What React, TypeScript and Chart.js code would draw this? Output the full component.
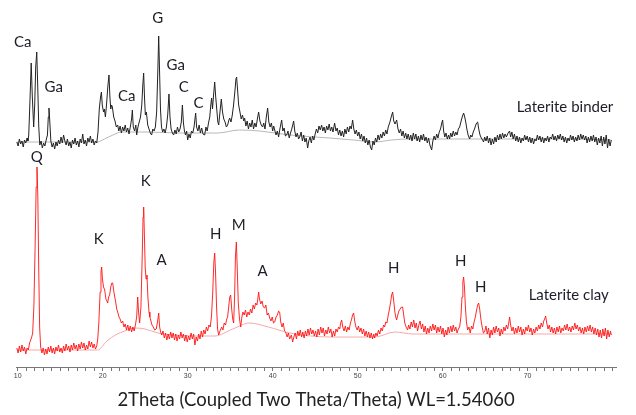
import React, { useEffect, useRef } from "react";
import { Chart, registerables } from "chart.js";

Chart.register(...registerables);

// 2θ (degrees) vs. intensity (arbitrary units, offset traces)
const binderLow: [number, number][] = [
  [9.9,225],[10.05,221],[10.2,228],[10.35,223],[10.5,226],[10.65,220],[10.8,227],[10.95,224],[11.1,229],[11.2,226],[11.3,232],[11.45,268],[11.59,304],[11.72,270],[11.88,240],[12.0,262],[12.12,300],[12.24,315],[12.36,280],[12.48,240],[12.6,222],[12.75,226],[12.9,219],[13.05,224],[13.2,221],[13.35,227],[13.5,232],[13.6,250],[13.68,259],[13.78,245],[13.9,226],[14.05,220],[14.2,224],[14.35,218],[14.5,225],[14.65,221],[14.8,227],[14.95,223],[15.1,230],[15.25,224],[15.4,232],[15.55,226],[15.7,222],[15.85,228],[16.0,221],[16.15,225],[16.3,219],[16.45,227],[16.6,223],[16.75,229],[16.9,222],[17.05,226],[17.2,220],[17.35,228],[17.5,224],[17.65,233],[17.8,223],[17.95,227],[18.1,221],[18.25,229],[18.4,225],[18.55,231],[18.7,224],[18.85,228],[19.0,222],[19.15,226],[19.3,224]
];
const binderMid: [number, number][] = [
  [19.45,235],[19.6,258],[19.75,270],[19.85,275],[19.95,262],[20.1,255],[20.2,258],[20.32,250],[20.45,262],[20.6,280],[20.74,292],[20.85,270],[20.95,258],[21.05,262],[21.14,260],[21.3,250],[21.45,246],[21.6,240],[21.76,242],[21.9,236],[22.05,241],[22.2,234],[22.35,240],[22.5,236],[22.65,242],[22.8,235],[22.95,239],[23.1,233],[23.25,240],[23.4,248],[23.49,257],[23.6,240],[23.75,236],[23.9,242],[24.0,232],[24.15,240],[24.3,245],[24.45,250],[24.6,262],[24.72,282],[24.82,294],[24.92,270],[25.02,252],[25.14,255],[25.3,242],[25.45,238],[25.6,234],[25.76,232],[25.9,238],[26.05,236],[26.2,240],[26.35,255],[26.5,300],[26.59,331],[26.68,300],[26.8,258],[26.92,240],[27.06,235],[27.2,238],[27.35,234],[27.5,240],[27.65,252],[27.8,273],[27.92,250],[28.05,238],[28.2,234],[28.35,232],[28.5,237],[28.65,233],[28.8,240],[28.95,235],[29.1,238],[29.25,245],[29.38,262],[29.5,244],[29.62,236],[29.75,232],[29.88,236],[30.0,227],[30.15,233],[30.3,229],[30.45,236],[30.6,234],[30.75,240],[30.94,254],[31.05,240],[31.2,236],[31.35,242],[31.5,234],[31.65,239],[31.8,233],[32.0,232],[32.15,240],[32.3,236],[32.45,244],[32.6,250],[32.72,262],[32.82,269],[32.92,258],[33.05,272],[33.18,285],[33.3,270],[33.45,255],[33.55,245],[33.65,242],[33.8,255],[33.96,268],[34.1,255],[34.25,248],[34.4,245],[34.55,240],[34.7,242],[34.82,246],[34.94,249],[35.1,245],[35.25,252],[35.4,262],[35.55,275],[35.68,288],[35.76,290],[35.88,276],[36.0,262],[36.15,255],[36.3,248],[36.45,252],[36.6,246],[36.7,249],[36.85,241],[37.0,246],[37.15,238],[37.3,244],[37.45,240],[37.6,247],[37.75,238],[37.9,244],[38.05,240],[38.2,248],[38.35,255],[38.5,246],[38.65,242],[38.82,240],[38.95,244],[39.1,238],[39.25,250],[39.41,259],[39.55,245],[39.7,240],[39.85,244],[40.0,236],[40.12,241],[40.24,237],[40.4,232],[40.55,236],[40.7,230],[40.85,238],[41.06,247],[41.2,236],[41.35,239],[41.5,231],[41.65,232],[41.8,236],[41.95,229],[42.1,234],[42.25,238],[42.47,246],[42.6,236],[42.75,230],[42.9,234],[43.05,228],[43.18,230],[43.35,235],[43.5,226],[43.65,232],[43.8,225],[43.95,229],[44.12,219],[44.25,226],[44.4,230],[44.55,224],[44.7,231],[44.85,227]
];
const binderHigh: [number, number][] = [
  [45.0,233],[45.15,238],[45.3,234],[45.45,241],[45.6,237],[45.76,242],[45.9,236],[46.05,240],[46.2,234],[46.35,241],[46.5,237],[46.65,243],[46.8,236],[46.95,240],[47.1,235],[47.29,244],[47.45,236],[47.6,239],[47.75,232],[47.9,237],[48.05,231],[48.2,236],[48.35,230],[48.5,238],[48.65,233],[48.8,240],[48.95,235],[49.1,241],[49.25,238],[49.41,247],[49.55,238],[49.7,233],[49.85,237],[50.0,231],[50.15,235],[50.3,228],[50.45,233],[50.6,226],[50.75,231],[50.9,224],[51.05,229],[51.2,222],[51.35,227],[51.5,220],[51.65,217],[51.8,226],[51.95,222],[52.1,229],[52.25,225],[52.4,232],[52.55,227],[52.7,233],[52.85,229],[53.0,235],[53.15,231],[53.3,237],[53.45,233],[53.6,240],[53.8,245],[53.95,250],[54.12,255],[54.25,246],[54.4,243],[54.59,247],[54.75,238],[54.9,234],[55.05,238],[55.2,231],[55.35,236],[55.5,229],[55.65,234],[55.8,228],[55.95,233],[56.1,227],[56.25,232],[56.4,226],[56.55,234],[56.7,228],[56.85,233],[57.0,226],[57.15,231],[57.3,225],[57.45,232],[57.6,227],[57.75,233],[57.9,226],[58.05,230],[58.2,224],[58.35,229],[58.5,222],[58.71,217],[58.85,226],[59.0,231],[59.15,227],[59.3,233],[59.45,229],[59.6,235],[59.75,238],[59.9,244],[60.0,247],[60.12,236],[60.25,230],[60.4,234],[60.55,228],[60.7,232],[60.82,228],[60.95,234],[61.1,230],[61.25,236],[61.4,231],[61.55,235],[61.7,232],[61.85,238],[62.0,240],[62.15,245],[62.3,250],[62.47,254],[62.6,250],[62.72,245],[62.85,238],[63.0,232],[63.18,228],[63.3,232],[63.45,230],[63.6,235],[63.75,238],[63.9,242],[64.0,244],[64.12,245],[64.25,238],[64.4,232],[64.55,229],[64.7,227],[64.82,225],[64.95,230],[65.1,226],[65.25,231],[65.4,224],[65.55,229],[65.7,222],[65.85,228],[66.0,223],[66.15,230],[66.3,225],[66.45,232],[66.6,227],[66.75,233],[66.9,228],[67.05,234],[67.2,229],[67.35,233],[67.5,230],[67.7,234],[67.88,236],[68.0,230],[68.15,235],[68.3,228],[68.45,233],[68.6,226],[68.75,231],[68.9,225],[69.05,230],[69.2,224],[69.35,229],[69.5,226],[69.65,232],[69.8,227],[69.95,231],[70.1,225],[70.25,230],[70.4,224],[70.55,229],[70.7,223],[70.85,228],[71.0,226],[71.15,232],[71.3,227],[71.45,231],[71.6,225],[71.75,230],[71.9,224],[72.05,229],[72.2,226],[72.35,231],[72.5,225],[72.65,230],[72.8,228],[72.95,233],[73.1,227],[73.25,231],[73.4,226],[73.55,232],[73.7,228],[73.85,233],[74.0,227],[74.15,231],[74.3,225],[74.45,230],[74.6,224],[74.75,229],[74.9,226],[75.05,232],[75.2,227],[75.35,231],[75.5,225],[75.65,230],[75.8,226],[75.95,232],[76.1,227],[76.25,233],[76.4,228],[76.55,232],[76.7,227],[76.85,231],[77.0,224],[77.15,230],[77.3,225],[77.45,231],[77.6,226],[77.75,232],[77.9,225],[78.05,230],[78.2,222],[78.35,229],[78.5,224],[78.65,231],[78.8,221],[78.95,230],[79.1,223],[79.25,232],[79.4,219],[79.55,228],[79.7,221],[79.85,227]
];
const binderBackground: [number, number][] = [
  [9.9,225],[19.4,225],[20.2,228],[21.2,232],[22.2,235],[25.3,235],[29,234],[33.5,234],[36.1,237],[38.5,236],[42,232],[46.7,229],[49.5,227],[52,225],[54,227],[56,228],[60,228],[65,228],[70,228],[75,228],[79.85,227]
];

const clayLow: [number, number][] = [
  [9.9,19],[10.05,14],[10.2,21],[10.35,15],[10.5,22],[10.65,16],[10.8,20],[10.95,13],[11.1,19],[11.25,17],[11.4,24],[11.53,27],[11.65,30],[11.76,34],[11.9,60],[12.05,120],[12.17,180],[12.27,200],[12.37,170],[12.47,100],[12.58,40],[12.7,20],[12.85,14],[13.0,19],[13.15,12],[13.3,18],[13.45,13],[13.6,20],[13.75,15],[13.9,21],[14.05,14],[14.2,19],[14.35,13],[14.5,20],[14.65,16],[14.8,22],[14.95,15],[15.1,19],[15.25,14],[15.4,21],[15.55,16],[15.7,23],[15.85,17],[16.0,21],[16.15,15],[16.3,22],[16.45,17],[16.6,24],[16.75,18],[16.9,22],[17.05,16],[17.2,23],[17.35,18],[17.5,25],[17.65,19],[17.8,24],[17.95,17],[18.1,22],[18.25,18],[18.4,26],[18.55,20],[18.7,25],[18.85,19],[19.0,23],[19.15,18],[19.3,21]
];
const clayMid: [number, number][] = [
  [19.42,28],[19.55,45],[19.7,75],[19.8,95],[19.88,100],[19.97,88],[20.1,80],[20.24,77],[20.38,68],[20.5,66],[20.59,64],[20.7,70],[20.82,72],[20.95,80],[21.07,84],[21.18,84],[21.3,76],[21.42,70],[21.53,65],[21.65,58],[21.8,54],[21.92,50],[22.05,48],[22.2,44],[22.35,46],[22.5,40],[22.65,43],[22.8,37],[22.95,42],[23.1,36],[23.25,41],[23.4,35],[23.55,40],[23.7,36],[23.85,42],[24.0,50],[24.12,70],[24.22,55],[24.35,44],[24.5,60],[24.65,110],[24.75,150],[24.82,160],[24.9,135],[25.0,100],[25.1,88],[25.21,92],[25.32,70],[25.45,55],[25.55,50],[25.65,47],[25.8,42],[25.95,40],[26.12,37],[26.3,38],[26.45,45],[26.59,54],[26.7,40],[26.82,35],[26.95,32],[27.1,36],[27.25,29],[27.4,34],[27.55,27],[27.7,33],[27.85,28],[28.0,35],[28.15,29],[28.3,34],[28.45,27],[28.6,33],[28.75,26],[28.9,32],[29.05,28],[29.2,35],[29.35,29],[29.5,33],[29.65,26],[29.8,32],[29.95,25],[30.1,31],[30.25,27],[30.4,34],[30.55,28],[30.7,33],[30.85,22],[31.0,30],[31.15,26],[31.3,33],[31.45,28],[31.6,36],[31.75,30],[31.9,37],[32.05,33],[32.2,40],[32.35,36],[32.5,42],[32.65,40],[32.8,50],[32.95,75],[33.08,105],[33.18,114],[33.28,95],[33.4,60],[33.52,38],[33.65,32],[33.8,36],[34.0,40],[34.15,37],[34.3,44],[34.45,42],[34.6,48],[34.7,50],[34.85,62],[34.95,70],[35.06,72],[35.18,58],[35.3,48],[35.41,44],[35.52,70],[35.62,110],[35.73,125],[35.83,100],[35.95,65],[36.1,48],[36.24,40],[36.38,50],[36.5,55],[36.65,52],[36.8,57],[36.95,50],[37.1,55],[37.25,52],[37.4,58],[37.55,54],[37.7,62],[37.85,58],[38.0,64],[38.15,62],[38.25,68],[38.35,75],[38.45,68],[38.6,63],[38.75,66],[38.9,60],[39.06,59],[39.2,62],[39.35,52],[39.5,54],[39.65,49],[39.8,46],[39.95,50],[40.1,44],[40.24,45],[40.4,50],[40.55,52],[40.7,56],[40.82,55],[40.95,45],[41.1,40],[41.25,44],[41.4,36],[41.53,35],[41.7,30],[41.85,34],[42.0,28],[42.2,32],[42.35,25],[42.5,30],[42.65,34],[42.8,28],[42.95,36],[43.1,31],[43.25,37],[43.4,30],[43.55,35],[43.7,29],[43.85,36],[44.0,31],[44.15,38],[44.3,32],[44.45,39],[44.6,33],[44.75,37],[44.9,31]
];
const clayHigh: [number, number][] = [
  [45.05,36],[45.2,30],[45.35,38],[45.5,32],[45.65,40],[45.8,34],[45.95,39],[46.1,31],[46.25,37],[46.4,33],[46.55,40],[46.7,34],[46.85,38],[47.0,30],[47.15,36],[47.3,31],[47.45,38],[47.6,35],[47.75,40],[47.9,38],[48.0,44],[48.12,47],[48.25,40],[48.4,36],[48.55,41],[48.7,35],[48.85,40],[49.0,37],[49.15,44],[49.3,48],[49.4,52],[49.53,54],[49.65,46],[49.8,40],[49.95,37],[50.1,41],[50.24,35],[50.4,39],[50.55,33],[50.7,38],[50.85,31],[51.0,36],[51.15,30],[51.3,35],[51.45,29],[51.6,34],[51.75,28],[51.9,33],[52.0,29],[52.15,34],[52.3,31],[52.45,37],[52.6,33],[52.75,39],[52.9,36],[53.05,42],[53.18,40],[53.3,45],[53.45,44],[53.6,52],[53.75,58],[53.9,66],[54.0,72],[54.12,75],[54.25,66],[54.38,55],[54.48,50],[54.59,47],[54.72,52],[54.85,56],[55.0,58],[55.15,60],[55.29,60],[55.42,52],[55.55,44],[55.7,40],[55.88,37],[56.0,42],[56.15,38],[56.3,45],[56.45,40],[56.6,47],[56.75,39],[56.9,44],[57.05,36],[57.2,42],[57.35,46],[57.5,38],[57.65,43],[57.8,35],[57.95,41],[58.1,33],[58.25,39],[58.4,34],[58.55,41],[58.7,36],[58.85,43],[59.0,37],[59.15,42],[59.3,34],[59.45,40],[59.6,35],[59.75,41],[59.9,33],[60.05,39],[60.2,30],[60.35,37],[60.5,32],[60.65,40],[60.8,34],[60.95,41],[61.1,35],[61.25,42],[61.4,36],[61.55,40],[61.7,34],[61.85,38],[62.0,40],[62.15,50],[62.28,70],[62.38,85],[62.47,90],[62.57,80],[62.68,60],[62.8,45],[62.94,37],[63.1,40],[63.25,34],[63.4,41],[63.55,38],[63.7,45],[63.85,50],[64.0,57],[64.12,62],[64.24,64],[64.36,58],[64.5,48],[64.65,40],[64.8,34],[64.94,35],[65.1,41],[65.25,33],[65.4,39],[65.55,29],[65.7,37],[65.85,32],[66.0,40],[66.15,34],[66.3,41],[66.45,35],[66.6,39],[66.75,31],[66.9,38],[67.05,33],[67.2,40],[67.35,36],[67.5,42],[67.65,38],[67.8,45],[67.88,50],[68.0,42],[68.15,36],[68.3,40],[68.45,33],[68.6,39],[68.75,34],[68.9,41],[69.05,35],[69.2,40],[69.35,32],[69.5,38],[69.65,33],[69.8,40],[69.95,36],[70.1,42],[70.25,35],[70.4,39],[70.55,32],[70.7,38],[70.85,34],[71.0,40],[71.15,36],[71.3,42],[71.45,38],[71.6,44],[71.75,40],[71.9,46],[72.0,48],[72.12,51],[72.25,44],[72.4,38],[72.55,42],[72.7,35],[72.85,40],[73.0,34],[73.15,39],[73.3,33],[73.45,40],[73.6,35],[73.75,41],[73.9,34],[74.05,39],[74.2,36],[74.35,42],[74.5,37],[74.65,43],[74.8,36],[74.95,40],[75.1,35],[75.25,41],[75.4,37],[75.55,44],[75.7,38],[75.85,42],[76.0,36],[76.15,40],[76.3,34],[76.45,39],[76.6,33],[76.75,40],[76.9,35],[77.05,41],[77.2,36],[77.35,42],[77.5,35],[77.65,40],[77.8,33],[77.95,39],[78.1,32],[78.25,38],[78.4,30],[78.55,37],[78.7,29],[78.85,38],[79.0,31],[79.15,39],[79.3,28],[79.45,37],[79.6,30],[79.75,36],[79.85,32]
];
const clayBackground: [number, number][] = [
  [9.9,17],[19.4,17],[20.5,26],[21.5,32],[22.6,36],[23.8,39],[25,38],[26.5,34],[28.5,32],[31,31],[33.2,31],[35.3,38],[37.3,44],[39.5,40],[42,34],[44.5,31],[46.7,30],[52,30],[54.4,35],[56.5,33],[60,33],[65,33],[70,33],[75,33],[79.85,33]
];

// phase tags: [text, 2θ, intensity]
const binderTags: [string, number, number][] = [
  ["Ca", 10.59, 325], ["Ga", 14.24, 280], ["Ca", 22.82, 271], ["G", 26.47, 349],
  ["Ga", 28.59, 302], ["C", 29.53, 280], ["C", 31.29, 264]
];
const clayTags: [string, number, number][] = [
  ["Q", 12.24, 210], ["K", 19.53, 128], ["K", 25.06, 186], ["A", 26.94, 107],
  ["H", 33.29, 133], ["M", 36.0, 142], ["A", 38.82, 96], ["H", 54.24, 99],
  ["H", 62.12, 106], ["H", 64.47, 80]
];
const seriesNames: [string, number, number][] = [
  ["Laterite binder", 68.71, 260], ["Laterite clay", 70.12, 72]
];

const xMin = 9.8;
const xMax = 80.4;
const xMinorTicks = [10,11,12,13,14,15,16,17,18,19,20,21,22,23,24,25,26,27,28,29,30,31,32,33,34,35,36,37,38,39,40,41,42,43,44,45,46,47,48,49,50,51,52,53,54,55,56,57,58,59,60,61,62,63,64,65,66,67,68,69,70,71,72,73,74,75,76,77,78,79,80];
const xTickLabels = [10, 20, 30, 40, 50, 60, 70];
const xTitle = "2Theta (Coupled Two Theta/Theta) WL=1.54060";

const toPts = (arr: [number, number][]) => arr.map(([x, y]) => ({ x, y }));

const tagPlugin = {
  id: "tags",
  afterDatasetsDraw(chart: any) {
    const { ctx, scales } = chart;
    const xs = scales.x;
    const ys = scales.y;
    ctx.save();
    ctx.fillStyle = "#1d1d28";
    ctx.font = "15px Lato";
    ctx.textBaseline = "middle";
    ctx.textAlign = "center";
    [...binderTags, ...clayTags].forEach(([t, x, y]) => {
      ctx.fillText(t, xs.getPixelForValue(x), ys.getPixelForValue(y));
    });
    ctx.textAlign = "left";
    seriesNames.forEach(([t, x, y]) => {
      ctx.fillText(t, xs.getPixelForValue(x), ys.getPixelForValue(y));
    });
    ctx.restore();
  },
};

export default function App() {
  const ref = useRef<HTMLCanvasElement | null>(null);
  useEffect(() => {
    if (!ref.current) return;
    const chart = new Chart(ref.current, {
      type: "line",
      data: {
        datasets: [
          {
            label: "Laterite binder",
            data: toPts([...binderLow, ...binderMid, ...binderHigh]),
            borderColor: "#222222",
            borderWidth: 1,
            pointRadius: 0,
            tension: 0,
            order: 1,
          },
          {
            label: "Laterite clay",
            data: toPts([...clayLow, ...clayMid, ...clayHigh]),
            borderColor: "rgba(255,20,20,0.9)",
            borderWidth: 1,
            pointRadius: 0,
            tension: 0,
            order: 2,
          },
          {
            label: "binder background",
            data: toPts(binderBackground),
            borderColor: "#b8b8b8",
            borderWidth: 1,
            pointRadius: 0,
            cubicInterpolationMode: "monotone",
            order: 3,
          },
          {
            label: "clay background",
            data: toPts(clayBackground),
            borderColor: "#f6a8a8",
            borderWidth: 1,
            pointRadius: 0,
            cubicInterpolationMode: "monotone",
            order: 4,
          },
        ],
      },
      options: {
        responsive: false,
        animation: false,
        devicePixelRatio: 1,
        layout: { padding: { left: 16, right: 20, top: 0, bottom: 0 } },
        plugins: { legend: { display: false }, tooltip: { enabled: false } },
        scales: {
          x: {
            type: "linear",
            min: xMin,
            max: xMax,
            afterBuildTicks: (scale: any) => {
              scale.ticks = xMinorTicks.map((value) => ({ value }));
            },
            afterFit: (scale: any) => {
              scale.height = 48;
            },
            border: { display: true, color: "#777", width: 1 },
            grid: { display: true, drawOnChartArea: false, drawTicks: true, tickLength: 4, color: "#777" },
            ticks: {
              autoSkip: false,
              maxRotation: 0,
              minRotation: 0,
              padding: 1,
              color: "#444",
              font: { family: "Liberation Sans", size: 7 },
              callback: (v: any) => {
                const r = Math.round(Number(v));
                return xTickLabels.includes(r) ? String(r) : "";
              },
            },
            title: {
              display: true,
              text: xTitle,
              color: "#222",
              font: { family: "Lato", size: 18.5 },
              padding: { top: 0, bottom: 4 },
            },
          },
          y: { display: false, min: 0, max: 367 },
        },
      },
      plugins: [tagPlugin],
    } as any);
    return () => chart.destroy();
  }, []);
  return (
    <div style={{ position: "fixed", left: 0, top: 0, width: 636, height: 415, background: "#fff" }}>
      <canvas ref={ref} width={636} height={415} style={{ width: 636, height: 415 }} />
    </div>
  );
}
